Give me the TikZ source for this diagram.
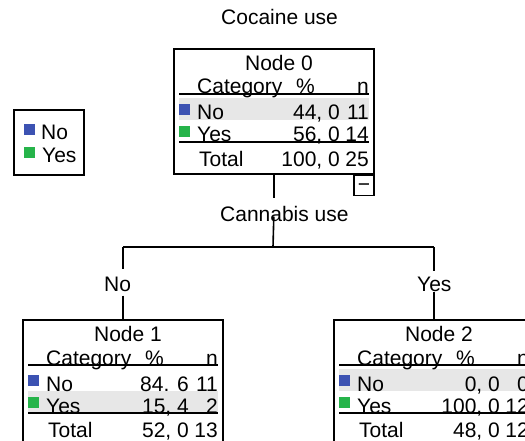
\documentclass[tikz,border=0pt]{standalone}
\usepackage{fontspec}
\setmainfont{Liberation Sans}
\definecolor{catblue}{RGB}{60,82,178}
\definecolor{catgreen}{RGB}{38,180,74}
\definecolor{rowgray}{RGB}{231,231,231}
\newcommand{\bigfont}{\fontsize{21}{25}\selectfont}
\tikzset{
  lbl/.style={inner sep=0pt, font=\bigfont, anchor=base west},
  lblr/.style={inner sep=0pt, font=\bigfont, anchor=base east},
  lblc/.style={inner sep=0pt, font=\bigfont, anchor=base},
  frame/.style={draw, line width=1.6pt, rectangle, inner sep=0pt, anchor=north west, minimum width=200pt, minimum height=125pt},
  tablerule/.style={line width=1.3pt},
  conn/.style={line width=1.6pt},
}
% name, x, y, title, top offset of the highlighted row
\newcommand{\statnode}[5]{%
  \begin{scope}[shift={(#2,#3)}]
    \fill[rowgray] (6,#5) rectangle (196,#5+22);
    \node[frame] (#1) at (0,0) {};
    \node[lblc] (#1-title) at (106,22.5) {#4};
    \node[lbl] (#1-cat) at (24,46) {Category};
    \node[lbl] (#1-pct) at (123,46) {\%};
    \node[lblr] (#1-n) at (196,46) {n};
    \draw[tablerule] (6,46) -- (196,46);
    \fill[catblue] (6,56) rectangle (17,67);
    \node[lbl] (#1-no) at (24,72) {No};
    \fill[catgreen] (6,78) rectangle (17,89);
    \node[lbl] (#1-yes) at (24,94) {Yes};
    \draw[tablerule] (6,94) -- (196,94);
    \node[lbl] (#1-tot) at (26,118.5) {Total};
  \end{scope}
}
% name, No %, No n, Yes %, Yes n, Total %, Total n
\newcommand{\statvals}[7]{%
  \begin{scope}[shift={(#1.north west)}]
    \node[lblr] (#1-nop) at (167,72) {#2};
    \node[lblr] (#1-non) at (196,72) {#3};
    \node[lblr] (#1-yesp) at (167,94) {#4};
    \node[lblr] (#1-yesn) at (196,94) {#5};
    \node[lblr] (#1-totp) at (167,118.5) {#6};
    \node[lblr] (#1-totn) at (196,118.5) {#7};
  \end{scope}
}
\begin{document}
\begin{tikzpicture}[x=1pt,y=-1pt]
  \useasboundingbox (0,0) rectangle (525,441);
  \fill[white] (0,0) rectangle (525,441);
  \clip (0,0) rectangle (525,441);

  % titles
  \node[lbl] (cocaine) at (221,25) {Cocaine use};

  % root node
  \statnode{n0}{173}{48}{Node 0}{50}
  \statvals{n0}{44, 0}{11}{56, 0}{14}{100, 0}{25}
  \node[draw, line width=1.3pt, inner sep=0pt, minimum size=20pt, anchor=north east] (n0-toggle) at (n0.south east) {};
  \node[lblc] (n0-minus) at ([yshift=-6.5pt]n0-toggle.center) {−};

  % legend
  \node[draw, line width=1.6pt, inner sep=0pt, anchor=north west, minimum width=70pt, minimum height=65pt] (legend) at (13,109) {};
  \fill[catblue] (24,124) rectangle (35,135);
  \node[lbl] (legno) at (41,140) {No};
  \fill[catgreen] (24,147) rectangle (35,158);
  \node[lbl] (legyes) at (42,163) {Yes};

  % child nodes
  \statnode{n1}{22}{319}{Node 1}{72}
  \statvals{n1}{84. 6}{11}{15, 4}{2}{52, 0}{13}
  \statnode{n2}{333}{319}{Node 2}{50}
  \statvals{n2}{0, 0}{0}{100, 0}{12}{48, 0}{12}

  % split labels
  \node[lbl] (cannabis) at (220,222) {Cannabis use};
  \node[lbl] (brno) at (104,291.5) {No};
  \node[lbl] (bryes) at (417,291.5) {Yes};
  \coordinate (split) at (273,247);

  % connectors
  \draw[conn] (n0.south) -- ([yshift=9pt]n0.south |- cannabis.north);
  \draw[conn] ([yshift=-10pt]n0.south |- cannabis.north) -- (split);
  \draw[conn] (n1.north |- split) -- (n2.north |- split);
  \draw[conn] (n1.north |- split) -- ([yshift=8pt]n1.north |- brno.north);
  \draw[conn] ([yshift=-4pt]n1.north |- brno.base) -- (n1.north);
  \draw[conn] (n2.north |- split) -- ([yshift=6pt]n2.north |- bryes.north);
  \draw[conn] (n2.north |- bryes.base) -- (n2.north);
\end{tikzpicture}
\end{document}
